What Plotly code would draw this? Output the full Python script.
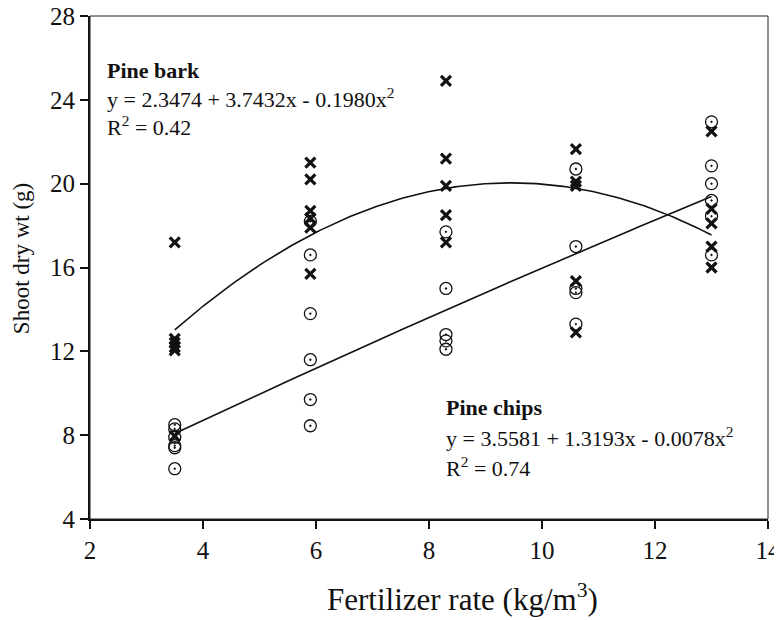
import numpy as np
import plotly.graph_objects as go

# Data
bark_x = [3.5]*6 + [5.9]*6 + [8.3]*5 + [10.6]*5 + [13.0]*5
bark_y = [17.2, 12.6, 12.4, 12.2, 12.05, 7.95,
          21.0, 20.2, 18.7, 18.35, 17.9, 15.7,
          24.9, 21.2, 19.9, 18.5, 17.2,
          21.65, 20.1, 19.9, 15.35, 12.9,
          22.5, 18.8, 18.1, 17.0, 16.0]

chips_x = [3.5]*6 + [5.9]*6 + [8.3]*5 + [10.6]*5 + [13.0]*6
chips_y = [8.5, 8.3, 7.9, 7.5, 7.4, 6.4,
           18.2, 16.6, 13.8, 11.6, 9.7, 8.45,
           17.7, 15.0, 12.8, 12.5, 12.1,
           20.7, 17.0, 15.0, 14.8, 13.3,
           22.95, 20.85, 20.0, 19.2, 18.45, 16.6]

bark_coef = [2.3474, 3.7432, -0.1980]
chips_coef = [3.5581, 1.3193, -0.0078]
fit_range = [3.5, 13.0]

x_ticks = [2, 4, 6, 8, 10, 12, 14]
y_ticks = [4, 8, 12, 16, 20, 24, 28]

FONT = "Liberation Serif"

xf = np.linspace(fit_range[0], fit_range[1], 200)
bark_fit = bark_coef[0] + bark_coef[1]*xf + bark_coef[2]*xf**2
chips_fit = chips_coef[0] + chips_coef[1]*xf + chips_coef[2]*xf**2

fig = go.Figure()
fig.add_trace(go.Scatter(x=xf, y=bark_fit, mode="lines",
                         line=dict(color="#111", width=1.6), showlegend=False))
fig.add_trace(go.Scatter(x=xf, y=chips_fit, mode="lines",
                         line=dict(color="#111", width=1.6), showlegend=False))
fig.add_trace(go.Scatter(x=chips_x, y=chips_y, mode="markers",
                         marker=dict(symbol="circle-open-dot", size=12,
                                     color="#111", line=dict(width=1.3, color="#111")),
                         showlegend=False))
fig.add_trace(go.Scatter(x=bark_x, y=bark_y, mode="markers",
                         marker=dict(symbol="x-thin", size=10,
                                     color="#111", line=dict(width=3.2, color="#111")),
                         showlegend=False))

tf = dict(family=FONT, size=22, color="#111")
anns = [
    ("<b>Pine bark</b>", 2.27, 25.42),
    ("y = 2.3474 + 3.7432x - 0.1980x<sup>2</sup>", 2.27, 24.09),
    ("R<sup>2</sup> = 0.42", 2.27, 22.75),
    ("<b>Pine chips</b>", 8.27, 9.30),
    ("y = 3.5581 + 1.3193x - 0.0078x<sup>2</sup>", 8.27, 7.91),
    ("R<sup>2</sup> = 0.74", 8.27, 6.48),
]
for t, x, y in anns:
    fig.add_annotation(x=x, y=y, text=t, showarrow=False, xanchor="left",
                       yanchor="middle", font=tf)

# axis titles
fig.add_annotation(xref="paper", yref="paper", x=0.549, y=-0.157,
                   text="Fertilizer rate (kg/m<sup>3</sup>)", showarrow=False,
                   xanchor="center", yanchor="middle",
                   font=dict(family=FONT, size=31, color="#111"))
fig.add_annotation(xref="paper", yref="paper", x=-0.10, y=0.517,
                   text="Shoot dry wt (g)", showarrow=False, textangle=-90,
                   xanchor="center", yanchor="middle",
                   font=dict(family=FONT, size=23, color="#111"))

fig.add_shape(type="rect", xref="paper", yref="paper", x0=0, y0=0, x1=1, y1=1,
              line=dict(color="#222", width=1))

fig.update_layout(
    width=782, height=620,
    margin=dict(l=82, r=22, t=8, b=109),
    plot_bgcolor="white", paper_bgcolor="white",
    font=dict(family=FONT, color="#111"),
    xaxis=dict(range=[2, 14], tickvals=x_ticks, ticks="outside", ticklen=8,
               tickwidth=1.5, tickcolor="#111", showline=True, linewidth=2,
               linecolor="#111", showgrid=False, zeroline=False, automargin=False,
               ticklabeloverflow="allow",
               tickfont=dict(family=FONT, size=25)),
    yaxis=dict(range=[4, 28], tickvals=y_ticks, ticks="outside", ticklen=8,
               tickwidth=1.5, tickcolor="#111", showline=True, linewidth=2,
               linecolor="#111", showgrid=False, zeroline=False, automargin=False,
               ticklabeloverflow="allow",
               tickfont=dict(family=FONT, size=25)),
)

fig.write_html("out.html")
